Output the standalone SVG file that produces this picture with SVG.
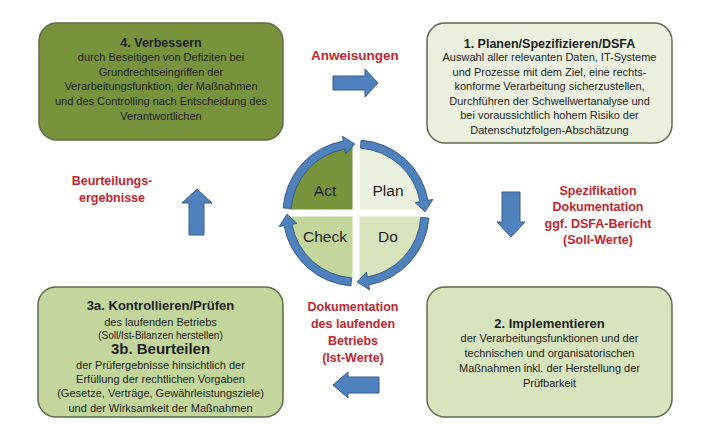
<svg xmlns="http://www.w3.org/2000/svg" xmlns:xlink="http://www.w3.org/1999/xlink" width="720" height="430" viewBox="0 0 720 430">
<style>
.box{stroke:#5f6b4a;stroke-width:1.5}
.t{font-family:"Liberation Sans",Arial,sans-serif;fill:#1e1e1e;text-anchor:middle}
.h{font-size:12.5px;font-weight:bold}
.b{font-size:11px}
.r{font-family:"Liberation Sans",Arial,sans-serif;fill:#c4262e;font-weight:bold;font-size:12.5px;text-anchor:middle}
.q{font-family:"Liberation Sans",Arial,sans-serif;fill:#1e1e1e;font-size:15.5px;text-anchor:middle}
.blue{fill:#4f81bd;stroke:#385d8a;stroke-width:1}
</style>
<defs>
<path id="ringArrow" d="M361.1,140.2 A73,73 0 0 1 427.9,200.3 L432.8,199.5 L425.0,211.8 L415.1,202.6 L420.0,201.7 A65,65 0 0 0 360.5,148.2 Z"/>
</defs>
<rect width="720" height="430" fill="#ffffff"/>

<g id="node-verbessern">
<rect class="box" x="39" y="23" width="244" height="117" rx="18" fill="#77933c" stroke="#4f6228"/>
<text class="t h" x="161" y="46.5">4. Verbessern</text>
<text class="t b" x="161" y="61">durch Beseitigen von Defiziten bei</text>
<text class="t b" x="161" y="75.7">Grundrechtseingriffen der</text>
<text class="t b" x="161" y="90.4">Verarbeitungsfunktion, der Maßnahmen</text>
<text class="t b" x="161" y="105.1">und des Controlling nach Entscheidung des</text>
<text class="t b" x="161" y="119.8">Verantwortlichen</text>
</g>

<g id="node-planen">
<rect class="box" x="427" y="23" width="245" height="120" rx="18" fill="#ebf1de"/>
<text class="t h" x="549.5" y="47.5">1. Planen/Spezifizieren/DSFA</text>
<text class="t b" x="549.5" y="61">Auswahl aller relevanten Daten, IT-Systeme</text>
<text class="t b" x="549.5" y="75.5">und Prozesse mit dem Ziel, eine rechts-</text>
<text class="t b" x="549.5" y="90">konforme Verarbeitung sicherzustellen,</text>
<text class="t b" x="549.5" y="104.5">Durchführen der Schwellwertanalyse und</text>
<text class="t b" x="549.5" y="119">bei voraussichtlich hohem Risiko der</text>
<text class="t b" x="549.5" y="133.5">Datenschutzfolgen-Abschätzung</text>
</g>

<g id="node-kontrollieren">
<rect class="box" x="38" y="287" width="245" height="130" rx="18" fill="#c3d69b"/>
<text class="t" x="160.5" y="309.5" style="font-size:13px;font-weight:bold">3a. Kontrollieren/Prüfen</text>
<text class="t b" x="160.5" y="326">des laufenden Betriebs</text>
<text class="t" x="160.5" y="338.5" style="font-size:10px">(Soll/Ist-Bilanzen herstellen)</text>
<text class="t" x="160.5" y="354" style="font-size:15px;font-weight:bold">3b. Beurteilen</text>
<text class="t b" x="160.5" y="369">der Prüfergebnisse hinsichtlich der</text>
<text class="t b" x="160.5" y="383">Erfüllung der rechtlichen Vorgaben</text>
<text class="t b" x="160.5" y="397">(Gesetze, Verträge, Gewährleistungsziele)</text>
<text class="t b" x="160.5" y="412">und der Wirksamkeit der Maßnahmen</text>
</g>

<g id="node-implementieren">
<rect class="box" x="427" y="287" width="245" height="130" rx="18" fill="#d7e4bd"/>
<text class="t" x="549.5" y="327.5" style="font-size:13px;font-weight:bold">2. Implementieren</text>
<text class="t b" x="549.5" y="342">der Verarbeitungsfunktionen und der</text>
<text class="t b" x="549.5" y="357">technischen und organisatorischen</text>
<text class="t b" x="549.5" y="372">Maßnahmen inkl. der Herstellung der</text>
<text class="t b" x="549.5" y="387">Prüfbarkeit</text>
</g>

<g id="node-pdca">
<path id="q-act" d="M352.5,209.5 V146.5 A63,63 0 0 0 289.5,209.5 Z" fill="#77933c"/>
<path id="q-plan" d="M359.5,209.5 V146.5 A63,63 0 0 1 422.5,209.5 Z" fill="#ebf1de"/>
<path id="q-check" d="M352.5,216.5 V279.5 A63,63 0 0 1 289.5,216.5 Z" fill="#c3d69b"/>
<path id="q-do" d="M359.5,216.5 V279.5 A63,63 0 0 0 422.5,216.5 Z" fill="#d7e4bd"/>
<text class="q" x="325" y="195.5">Act</text>
<text class="q" x="388" y="195.5">Plan</text>
<text class="q" x="325" y="241.5">Check</text>
<text class="q" x="388" y="241.5">Do</text>
</g>

<g id="connectors">
<use xlink:href="#ringArrow" class="blue"/>
<use xlink:href="#ringArrow" class="blue" transform="rotate(90 356 213)"/>
<use xlink:href="#ringArrow" class="blue" transform="rotate(180 356 213)"/>
<use xlink:href="#ringArrow" class="blue" transform="rotate(270 356 213)"/>
<polygon class="blue" points="333,76 365,76 365,69 378,83 365,97 365,90 333,90"/>
<polygon class="blue" points="502,192 520,192 520,222 525,222 511,237 497,222 502,222"/>
<polygon class="blue" points="379,377 348,377 348,372 333,385 348,398 348,393 379,393"/>
<polygon class="blue" points="189,235 189,203 182,203 197,189 212,203 204,203 204,235"/>
<text class="r" x="355" y="59.5" style="font-size:13.5px">Anweisungen</text>
<text class="r" x="598" y="194.5">Spezifikation</text>
<text class="r" x="598" y="211">Dokumentation</text>
<text class="r" x="598" y="227.5">ggf. DSFA-Bericht</text>
<text class="r" x="598" y="244">(Soll-Werte)</text>
<text class="r" x="353" y="310.5">Dokumentation</text>
<text class="r" x="353" y="327.5">des laufenden</text>
<text class="r" x="353" y="345">Betriebs</text>
<text class="r" x="353" y="362">(Ist-Werte)</text>
<text class="r" x="112" y="184.5">Beurteilungs-</text>
<text class="r" x="112" y="201.5">ergebnisse</text>
</g>
</svg>
